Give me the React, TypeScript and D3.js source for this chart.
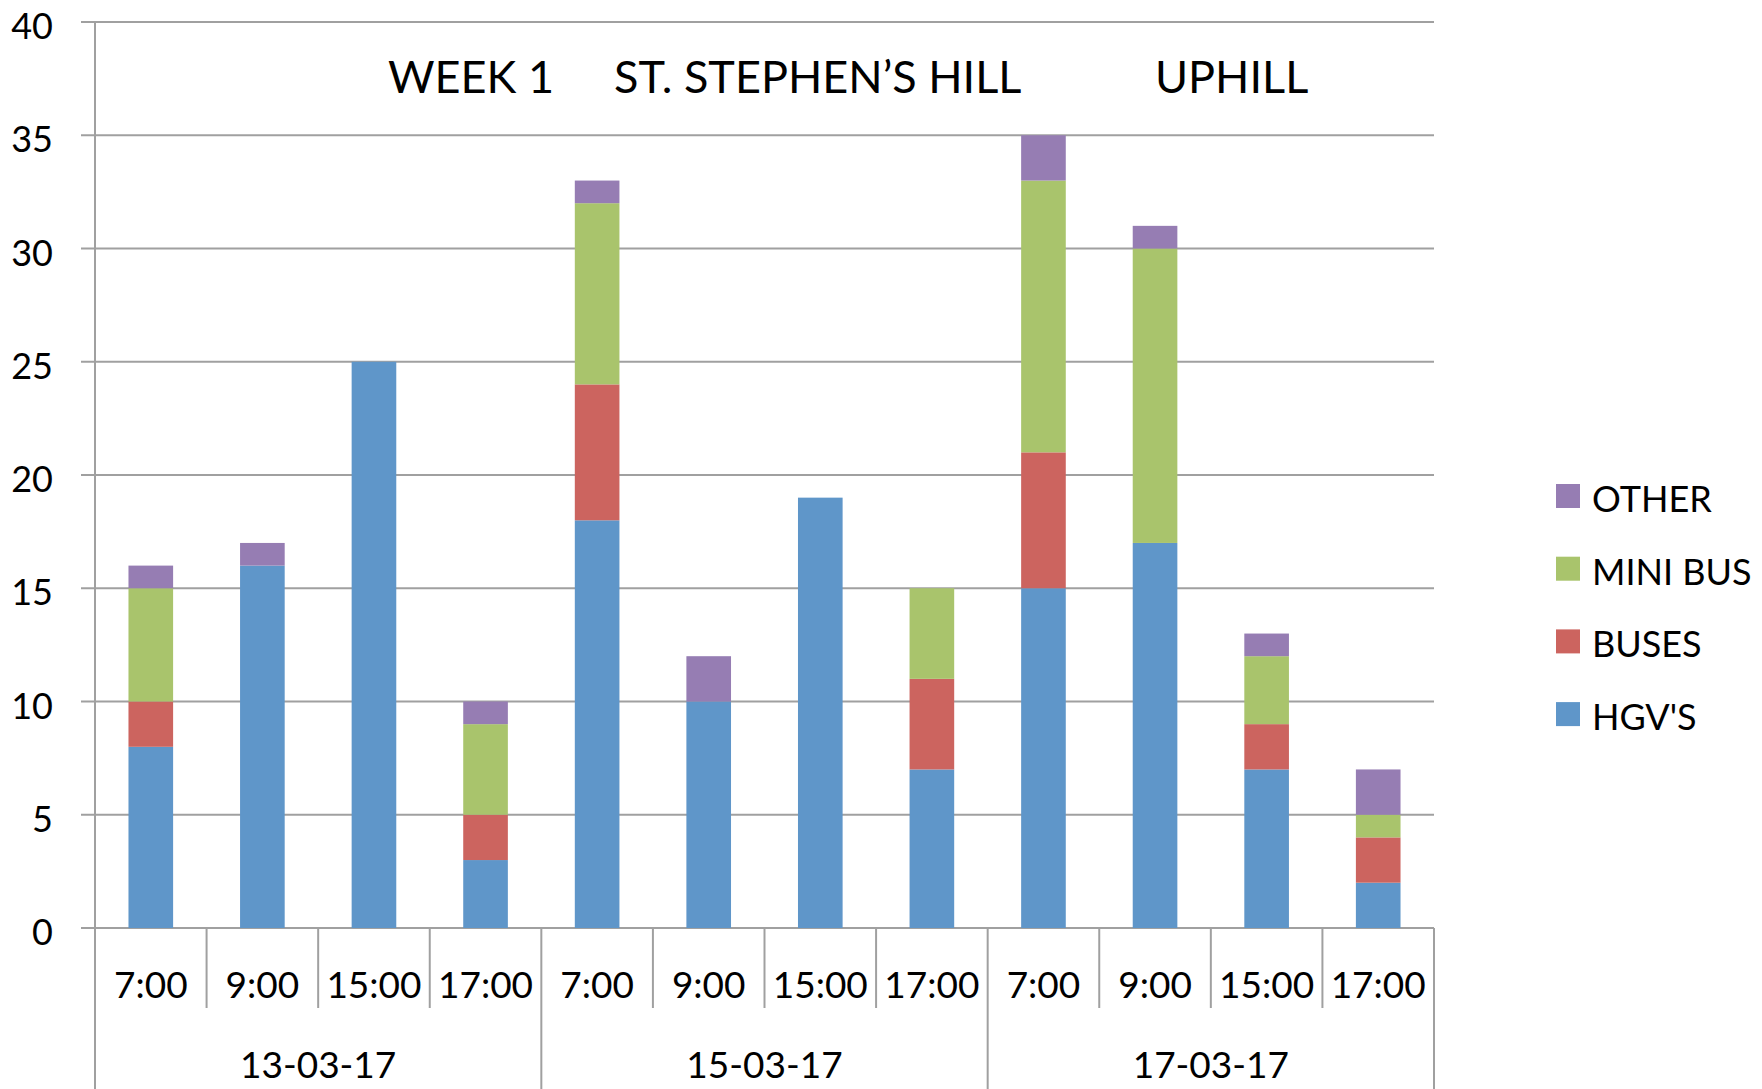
import React from "react";
import * as d3 from "d3";

const times = ["7:00", "9:00", "15:00", "17:00", "7:00", "9:00", "15:00", "17:00", "7:00", "9:00", "15:00", "17:00"];
const dates = ["13-03-17", "15-03-17", "17-03-17"];
const seriesNames = ["HGV'S", "BUSES", "MINI BUS", "OTHER"];
const hgv = [8, 16, 25, 3, 18, 10, 19, 7, 15, 17, 7, 2];
const buses = [2, 0, 0, 2, 6, 0, 0, 4, 6, 0, 2, 2];
const miniBus = [5, 0, 0, 4, 8, 0, 0, 4, 12, 13, 3, 1];
const other = [1, 1, 0, 1, 1, 2, 0, 0, 2, 1, 1, 2];
const yTicks = [0, 5, 10, 15, 20, 25, 30, 35, 40];
const titleParts = ["WEEK 1", "ST. STEPHEN\u2019S HILL", "UPHILL"];

const colors = ["#5f96c9", "#cc645f", "#a9c46c", "#967db3"];
const W = 1762, H = 1089;
const left = 95, right = 1434, top = 22, bottom = 928;
const font = "Lato, 'Open Sans', sans-serif";

export default function App() {
  const idx = times.map((_, i) => i);
  const x = d3.scaleBand<number>().domain(idx).range([left, right]).paddingInner(0.6).paddingOuter(0.3);
  const y = d3.scaleLinear().domain([0, 40]).range([bottom, top]);
  const rows = idx.map((i) => ({ i, h: hgv[i], b: buses[i], m: miniBus[i], o: other[i] }));
  const stack = d3.stack<any>().keys(["h", "b", "m", "o"])(rows);
  const step = x.step();
  const groupW = step * 4;
  const gridColor = "#a0a0a0";
  const legendOrder = [3, 2, 1, 0];
  const titleX = [388, 614, 1155];

  return (
    <svg width={W} height={H} style={{ position: "absolute", left: 0, top: 0, background: "#fff" }} fontFamily={font}>
      {yTicks.map((t) => (
        <g key={t}>
          <line x1={81} x2={right} y1={y(t)} y2={y(t)} stroke={gridColor} strokeWidth={2} />
          <text x={53} y={y(t) + 17} textAnchor="end" fontSize={36} fill="#000">{t}</text>
        </g>
      ))}
      {stack.map((layer, si) => (
        <g key={si} fill={colors[si]}>
          {layer.map((d, i) => {
            const h = y(d[0]) - y(d[1]);
            if (h <= 0) return null;
            return <rect key={i} x={x(i)} y={y(d[1])} width={x.bandwidth()} height={h} />;
          })}
        </g>
      ))}
      <line x1={left} x2={left} y1={top} y2={H} stroke={gridColor} strokeWidth={2} />
      {idx.slice(1).map((i) => {
        const xx = left + step * i;
        const isGroup = i % 4 === 0;
        return <line key={i} x1={xx} x2={xx} y1={bottom} y2={isGroup ? H : 1008} stroke={gridColor} strokeWidth={2} />;
      })}
      <line x1={right} x2={right} y1={bottom} y2={H} stroke={gridColor} strokeWidth={2} />
      {times.map((t, i) => (
        <text key={i} x={(x(i) as number) + x.bandwidth() / 2} y={998} textAnchor="middle" fontSize={37} fill="#000">{t}</text>
      ))}
      {dates.map((d, g) => (
        <text key={g} x={left + groupW * g + groupW / 2} y={1078} textAnchor="middle" fontSize={37} fill="#000">{d}</text>
      ))}
      {titleParts.map((t, i) => (
        <text key={i} x={titleX[i]} y={93} fontSize={45} fill="#000">{t}</text>
      ))}
      {legendOrder.map((si, k) => (
        <g key={si}>
          <rect x={1556} y={484 + k * 72.7} width={24} height={24} fill={colors[si]} />
          <text x={1592} y={484 + k * 72.7 + 28} fontSize={36} fill="#000">{seriesNames[si]}</text>
        </g>
      ))}
    </svg>
  );
}
